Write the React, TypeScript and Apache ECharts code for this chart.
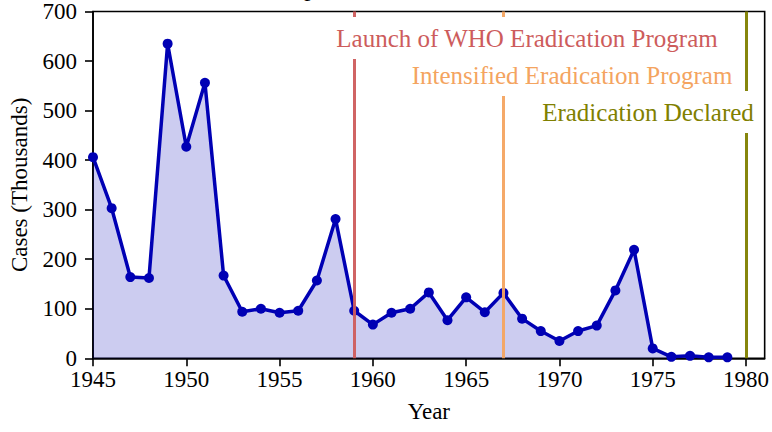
import React, { useEffect, useRef } from "react";
import * as echarts from "echarts";

const years: number[] = [
  1945, 1946, 1947, 1948, 1949, 1950, 1951, 1952, 1953, 1954, 1955, 1956,
  1957, 1958, 1959, 1960, 1961, 1962, 1963, 1964, 1965, 1966, 1967, 1968,
  1969, 1970, 1971, 1972, 1973, 1974, 1975, 1976, 1977, 1978, 1979,
];
const cases: number[] = [
  406, 303, 164, 162, 635, 427, 556, 167, 94, 100, 92, 96,
  157, 281, 96, 68, 92, 100, 133, 77, 123, 93, 132, 80,
  55, 35, 55, 66, 137, 219, 20, 3, 5, 2, 2,
];
const xTicks: number[] = [1945, 1950, 1955, 1960, 1965, 1970, 1975, 1980];
const events = [
  { year: 1959, label: "Launch of WHO Eradication Program", color: "#cd5c5c" },
  { year: 1967, label: "Intensified Eradication Program", color: "#f4a460" },
  { year: 1980, label: "Eradication Declared", color: "#808000" },
];
const titleText = "Smallpox Cases Over Time";

const FONT = "'Liberation Serif', 'DejaVu Serif', serif";

export default function App() {
  const ref = useRef<HTMLDivElement>(null);
  useEffect(() => {
    if (!ref.current) return;
    const chart = echarts.init(ref.current, null, { renderer: "svg" });
    const annPos = [
      { cx: 527, cy: 38 },
      { cx: 572, cy: 75 },
      { cx: 648, cy: 112 },
    ];
    chart.setOption({
      animation: false,
      backgroundColor: "#fff",
      grid: {
        left: 92.7,
        right: 4,
        top: 10,
        bottom: 73.7,
        show: true,
        borderColor: "#000",
        borderWidth: 1.6,
        containLabel: false,
      },
      xAxis: {
        type: "value",
        min: 1945,
        max: 1981,
        interval: 5,
        name: "Year",
        nameLocation: "middle",
        nameGap: 42,
        nameTextStyle: { fontFamily: FONT, fontSize: 23, color: "#000" },
        splitLine: { show: false },
        axisLine: { show: true, lineStyle: { color: "#000", width: 1.6 } },
        axisTick: {
          show: true,
          length: 8,
          lineStyle: { color: "#000", width: 1.6 },
          customValues: xTicks,
        },
        axisLabel: {
          fontFamily: FONT,
          fontSize: 23,
          color: "#000",
          margin: 10,
          customValues: xTicks,
          formatter: (v: number) => String(v),
        },
      },
      yAxis: {
        type: "value",
        min: 0,
        max: 700,
        interval: 100,
        name: "Cases (Thousands)",
        nameLocation: "middle",
        nameGap: 62,
        nameTextStyle: { fontFamily: FONT, fontSize: 23, color: "#000" },
        splitLine: { show: false },
        axisLine: { show: true, lineStyle: { color: "#000", width: 1.6 } },
        axisTick: { show: true, length: 8, lineStyle: { color: "#000", width: 1.6 } },
        axisLabel: { fontFamily: FONT, fontSize: 23, color: "#000", margin: 16 },
      },
      series: [
        {
          type: "line",
          data: years.map((y, i) => [y, cases[i]]),
          symbol: "circle",
          symbolSize: 10,
          showSymbol: true,
          lineStyle: { color: "#0000b4", width: 3.5 },
          itemStyle: { color: "#0000b4" },
          areaStyle: { color: "rgba(0,0,180,0.2)", opacity: 1, origin: "start" },
          z: 3,
          markLine: {
            silent: true,
            symbol: "none",
            label: { show: false },
            data: events.map((e) => ({
              xAxis: e.year,
              lineStyle: { color: e.color, width: 3, type: "solid", opacity: 0.95 },
            })),
          },
        },
      ],
      graphic: [
        {
          type: "text",
          x: 246,
          y: 0,
          z: 50,
          style: {
            text: titleText,
            font: `25px ${FONT}`,
            fill: "#000",
            align: "left",
            verticalAlign: "bottom",
          },
        },
        ...events.map((e, i) => ({
          type: "text",
          x: annPos[i].cx,
          y: annPos[i].cy,
          z: 100 + i,
          style: {
            text: e.label,
            font: `25px ${FONT}`,
            fill: e.color,
            align: "center",
            verticalAlign: "middle",
            backgroundColor: "#fff",
            padding: [6, 8, 11, 8],
          },
        })),
      ],
    });
    return () => chart.dispose();
  }, []);
  return <div ref={ref} style={{ width: 772, height: 432, position: "absolute", left: 0, top: 0 }} />;
}
